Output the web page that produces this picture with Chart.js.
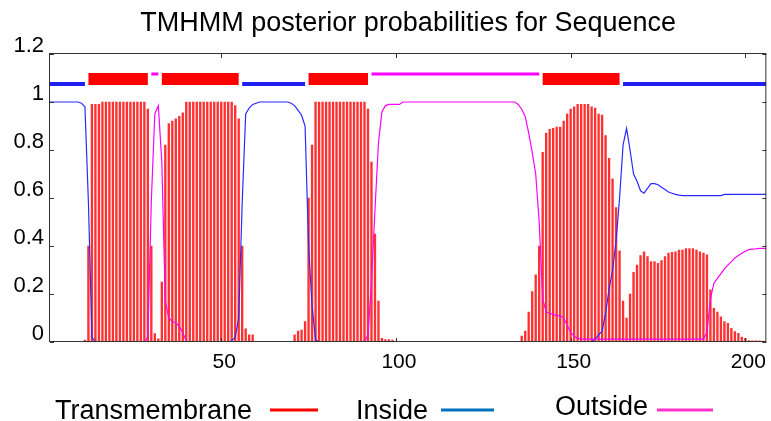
<!DOCTYPE html>
<html><head><meta charset="utf-8">
<script src="https://cdn.jsdelivr.net/npm/chart.js@4.4.1/dist/chart.umd.min.js"></script>
<style>html,body{margin:0;padding:0;background:#fff;}#wrap{width:771px;height:421px;}</style>
</head><body><div id="wrap"><canvas id="c" width="771" height="421"></canvas></div>
<script>
// ---- data (residue 1 .. 206) ----
const firstResidue = 1;
const transmembrane = [
 0,0,0,0,0,0,0,0,0,0,
 0.008,0.4,0.99,0.99,0.99,1,1,1,1,1,
 1,1,1,1,1,1,1,1,0.97,0.4,
 0.035,0.013,0.25,0.82,0.91,0.92,0.93,0.94,0.955,1,
 1,1,1,1,1,1,1,1,1,1,
 1,1,1,0.985,0.93,0.4,0.055,0.03,0.03,0,
 0,0,0,0,0,0,0,0,0,0,
 0.03,0.045,0.05,0.085,0.6,0.82,1,1,1,1,
 1,1,1,1,1,1,1,1,1,1,
 1,0.97,0.75,0.45,0.17,0.015,0.01,0.01,0.008,0,
 0,0,0,0,0,0,0,0,0,0,
 0,0,0,0,0,0,0,0,0,0,
 0,0,0,0,0,0,0,0,0,0,
 0,0,0,0,0,0.025,0.045,0.125,0.21,0.28,
 0.4,0.79,0.87,0.886,0.89,0.895,0.895,0.92,0.95,0.97,
 0.98,0.99,0.99,0.99,0.99,0.98,0.975,0.95,0.946,0.86,
 0.765,0.68,0.56,0.38,0.17,0.1,0.2,0.29,0.32,0.36,
 0.376,0.356,0.335,0.335,0.328,0.339,0.356,0.37,0.374,0.376,
 0.383,0.383,0.389,0.389,0.389,0.383,0.376,0.37,0.363,0.217,
 0.14,0.125,0.105,0.085,0.078,0.057,0.043,0.036,0.02,0.015,
 0.006,0.005,0.005,0.005,0.004,0.003
];
const inside = [
 1,1,1,1,1,1,1,1,1,0.995,
 0.98,0.58,0.02,0,0,0,0,0,0,0,
 0,0,0,0,0,0,0,0,0,0,
 0,0,0,0,0,0,0,0,0,0,
 0,0,0,0,0,0,0,0,0,0,
 0,0,0.005,0.02,0.1,0.58,0.95,0.975,0.99,0.995,
 1,1,1,1,1,1,1,1,1,0.995,
 0.985,0.965,0.945,0.9,0.4,0.15,0.01,0,0,0,
 0,0,0,0,0,0,0,0,0,0,
 0,0,0,0,0,0,0,0,0,0,
 0,0,0,0,0,0,0,0,0,0,
 0,0,0,0,0,0,0,0,0,0,
 0,0,0,0,0,0,0,0,0,0,
 0,0,0,0,0,0,0,0,0,0,
 0,0,0,0,0,0,0,0,0,0,
 0,0,0,0,0,0.003,0.012,0.03,0.045,0.12,
 0.22,0.3,0.42,0.6,0.82,0.89,0.8,0.7,0.67,0.63,
 0.62,0.64,0.66,0.66,0.655,0.645,0.635,0.625,0.62,0.615,
 0.612,0.61,0.61,0.61,0.61,0.61,0.61,0.61,0.61,0.61,
 0.61,0.61,0.61,0.615,0.615,0.615,0.615,0.615,0.615,0.615,
 0.615,0.615,0.615,0.615,0.615,0.615
];
const outside = [
 0,0,0,0,0,0,0,0,0,0,
 0,0,0,0,0,0,0,0,0,0,
 0,0,0,0,0,0,0,0,0.02,0.59,
 0.95,0.985,0.75,0.17,0.1,0.085,0.08,0.065,0.04,0.003,
 0,0,0,0,0,0,0,0,0,0,
 0,0,0,0,0,0,0,0,0,0,
 0,0,0,0,0,0,0,0,0,0,
 0,0,0,0,0,0,0,0,0,0,
 0,0,0,0,0,0,0,0,0,0,
 0,0.03,0.25,0.55,0.83,0.96,0.985,0.99,0.99,0.99,
 0.99,1,1,1,1,1,1,1,1,1,
 1,1,1,1,1,1,1,1,1,1,
 1,1,1,1,1,1,1,1,1,1,
 1,1,1,1,0.99,0.97,0.94,0.87,0.79,0.7,
 0.5,0.18,0.125,0.12,0.115,0.11,0.11,0.1,0.07,0.04,
 0.025,0.015,0.012,0.012,0.012,0.012,0.012,0.012,0.012,0.012,
 0.012,0.012,0.012,0.012,0.012,0.012,0.012,0.012,0.012,0.012,
 0.012,0.012,0.012,0.012,0.012,0.012,0.012,0.012,0.012,0.012,
 0.012,0.012,0.012,0.012,0.012,0.012,0.012,0.012,0.04,0.18,
 0.245,0.265,0.285,0.305,0.32,0.335,0.35,0.36,0.37,0.378,
 0.385,0.387,0.388,0.39,0.39,0.39
];
// predicted topology (residue ranges)
const tmSegments = [[12,29],[33,55],[75,92],[142,164]];
const insideSegments = [[1,11],[56,74],[165,206]];
const outsideSegments = [[30,32],[93,141]];
const topoInsideLevel = 1.075;
const topoTmLevel = 1.096;
const topoOutsideLevel = 1.117;
// axes
const xRange = [1, 206];
const xTicks = [50, 100, 150, 200];
const yTicks = [0, 0.2, 0.4, 0.6, 0.8, 1, 1.2];
const titleText = 'TMHMM posterior probabilities for Sequence';
const legendLabels = ['Transmembrane', 'Inside', 'Outside'];

// ---- build ----
const FONT = "'Liberation Sans', Arial, Helvetica, sans-serif";
Chart.defaults.font.family = FONT;
const toPts = arr => arr.map((v, i) => ({x: firstResidue + i, y: v}));
const segPts = (segs, y) => {
  const out = [];
  segs.forEach(([s, e]) => { out.push({x: s, y: y}, {x: e, y: y}, {x: e, y: null}); });
  return out;
};

const decor = {
  id: 'decor',
  afterDraw(chart) {
    const {ctx, chartArea: a, scales: {x, y}} = chart;
    ctx.save();
    // frame
    ctx.strokeStyle = '#333';
    ctx.lineWidth = 1;
    ctx.strokeRect(a.left - 0.5, a.top - 0.5, a.right - a.left, a.bottom - a.top);
    // inward ticks
    ctx.beginPath();
    xTicks.forEach(v => {
      const p = Math.round(x.getPixelForValue(v)) + 0.5;
      ctx.moveTo(p, a.bottom); ctx.lineTo(p, a.bottom - 4);
      ctx.moveTo(p, a.top); ctx.lineTo(p, a.top + 4);
    });
    yTicks.forEach(v => {
      const p = Math.round(y.getPixelForValue(v)) + 0.5;
      ctx.moveTo(a.left, p); ctx.lineTo(a.left + 4, p);
      ctx.moveTo(a.right, p); ctx.lineTo(a.right - 4, p);
    });
    ctx.stroke();
    // title
    ctx.fillStyle = '#000';
    ctx.font = '27px ' + FONT;
    ctx.textAlign = 'center';
    ctx.textBaseline = 'alphabetic';
    ctx.fillText(titleText, (a.left + a.right) / 2, 31);
    // legend
    const items = [
      {t: legendLabels[0], tx: 55, ty: 419, l0: 270, l1: 318, ly: 410, c: '#ff0000'},
      {t: legendLabels[1], tx: 356, ty: 419, l0: 441, l1: 494, ly: 410, c: '#0070c0'},
      {t: legendLabels[2], tx: 555, ty: 415, l0: 657, l1: 713, ly: 410, c: '#ff33cc'}
    ];
    ctx.font = '27px ' + FONT;
    ctx.textAlign = 'left';
    items.forEach(it => {
      ctx.fillStyle = '#000';
      ctx.fillText(it.t, it.tx, it.ty);
      ctx.strokeStyle = it.c;
      ctx.lineWidth = 3;
      ctx.beginPath();
      ctx.moveTo(it.l0, it.ly); ctx.lineTo(it.l1, it.ly);
      ctx.stroke();
    });
    ctx.restore();
  }
};

new Chart(document.getElementById('c'), {
  data: {
    datasets: [
      {type: 'bar', label: 'Transmembrane', data: toPts(transmembrane), backgroundColor: '#ff3030',
       borderWidth: 0, barThickness: 1.7, order: 10},
      {type: 'line', label: 'Inside', data: toPts(inside), borderColor: '#2a2aff', borderWidth: 1.2,
       pointRadius: 0, tension: 0, order: 3},
      {type: 'line', label: 'Outside', data: toPts(outside), borderColor: '#ff00ff', borderWidth: 1.2,
       pointRadius: 0, tension: 0, order: 2},
      {type: 'line', label: 'topo inside', data: segPts(insideSegments, topoInsideLevel), borderColor: '#1f1ff0',
       borderWidth: 4, pointRadius: 0, spanGaps: false, order: 1},
      {type: 'line', label: 'topo TM', data: segPts(tmSegments, topoTmLevel), borderColor: '#ff0000',
       borderWidth: 12, pointRadius: 0, spanGaps: false, order: 1},
      {type: 'line', label: 'topo outside', data: segPts(outsideSegments, topoOutsideLevel), borderColor: '#ff00ff',
       borderWidth: 3, pointRadius: 0, spanGaps: false, order: 1}
    ]
  },
  options: {
    responsive: false,
    animation: false,
    events: [],
    layout: {padding: {top: 54, right: 4, left: 0, bottom: 0}},
    plugins: {legend: {display: false}, tooltip: {enabled: false}, title: {display: false}},
    scales: {
      x: {
        type: 'linear', min: xRange[0], max: xRange[1], offset: false,
        afterBuildTicks: s => { s.ticks = xTicks.map(v => ({value: v})); },
        afterFit: s => { s.height = 79; },
        grid: {display: false, drawTicks: false},
        border: {display: false},
        ticks: {font: {size: 21}, color: '#000', padding: 8, labelOffset: 3, maxRotation: 0, autoSkip: false,
                callback: v => String(v)}
      },
      y: {
        type: 'linear', min: 0, max: 1.2,
        afterBuildTicks: s => { s.ticks = yTicks.map(v => ({value: v})); },
        afterFit: s => { s.width = 50; },
        grid: {display: false, drawTicks: false},
        border: {display: false},
        ticks: {font: {size: 22}, color: '#000', padding: 6, labelOffset: -8, autoSkip: false,
                callback: v => String(v)}
      }
    }
  },
  plugins: [decor]
});
</script>
</body></html>
